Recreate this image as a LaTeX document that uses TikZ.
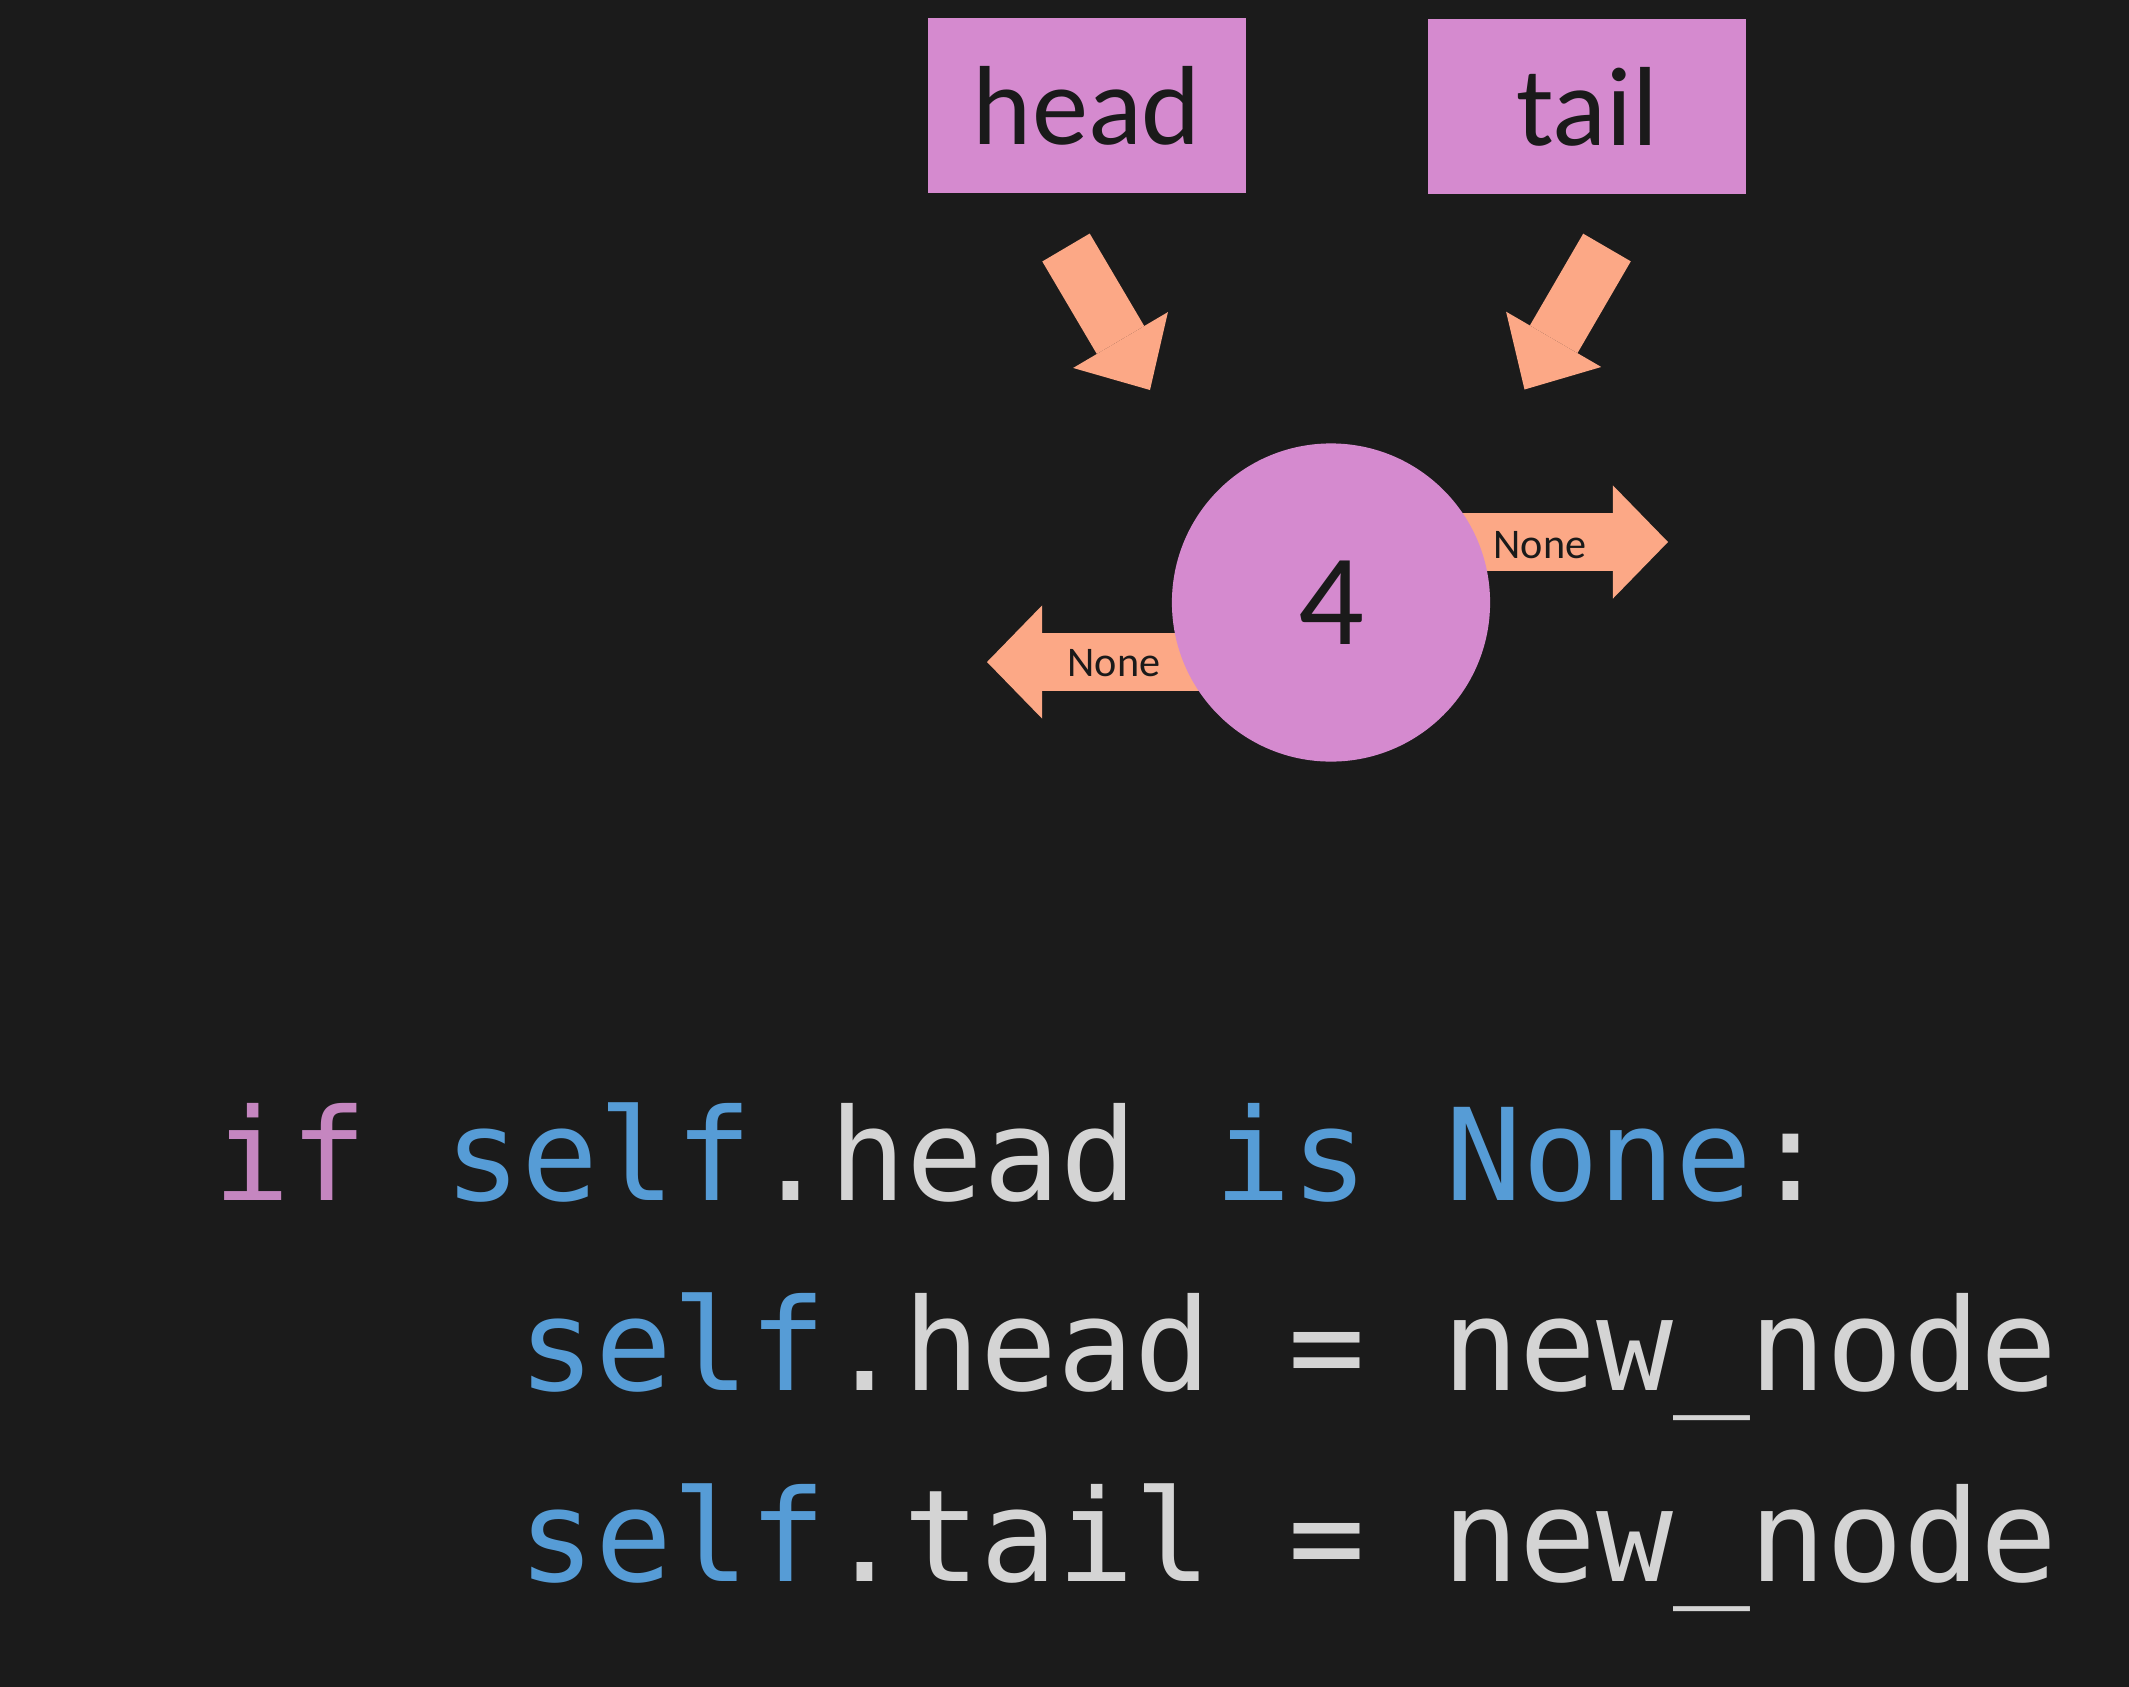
\documentclass[tikz,border=0pt]{standalone}
\usepackage{fontspec}
\setmainfont{Carlito}
\newfontfamily\codefont{DejaVu Sans Mono}
\usetikzlibrary{arrows.meta,calc}
\definecolor{bgc}{HTML}{1B1B1B}
\definecolor{boxc}{HTML}{D58ACF}
\definecolor{arrc}{HTML}{FCA886}
\definecolor{kwpurple}{HTML}{C586C0}
\definecolor{kwblue}{HTML}{569CD6}
\definecolor{codewhite}{HTML}{D4D4D4}
\definecolor{ink}{HTML}{1A1A1A}
\begin{document}
\begin{tikzpicture}[x=0.01cm,y=-0.01cm,
  ptr/.style={fill=boxc, draw=none, minimum width=3.17cm, minimum height=1.74cm, inner sep=0pt,
    font=\fontsize{32}{36}\selectfont, text=ink},
  blockarrow/.style={draw=arrc, line width=0.55cm, -{Triangle[width=1.1cm,length=0.58cm,line width=0pt]}},
  sidearrow/.style={draw=arrc, line width=0.58cm, -{Triangle[width=1.13cm,length=0.55cm,line width=0pt]}},
  listnode/.style={circle, fill=boxc, draw=none, minimum size=3.18cm, inner sep=0pt,
    font=\fontsize{37}{40}\selectfont, text=ink},
  nonelabel/.style={inner sep=0pt, font=\fontsize{12}{14}\selectfont, text=ink},
  code/.style={anchor=base west, inner sep=0pt, text=codewhite,
    font=\codefont\fontsize{36.35}{40}\selectfont}]
\fill[bgc] (0,0) rectangle (2129,1687);
% pointer boxes
\node[ptr] (head) at (1087,105.5) {head};
\node[ptr] (tail) at (1587,106.5) {tail};
% pointer arrows
\coordinate (hs) at (1066,247.5);
\coordinate (he) at (1150,390);
\coordinate (ts) at (1607,247.5);
\coordinate (te) at (1524.5,389.5);
\draw[blockarrow] (hs) -- (he);
\draw[blockarrow] (ts) -- (te);
% prev / next arrows (under the node)
\coordinate (c0) at (1331,602.5);
\coordinate (nxs) at (1331,542);
\coordinate (nxe) at (1668,542);
\coordinate (pvs) at (1331,662);
\coordinate (pve) at (987,662);
\draw[sidearrow] (nxs) -- (nxe);
\draw[sidearrow] (pvs) -- (pve);
% the list node
\node[listnode] (n4) at (c0) {4};
\node[nonelabel] (nextlbl) at (1540,545) {None};
\node[nonelabel] (prevlbl) at (1114,663) {None};
% code
\node[code] (l1) at (213,1200) {\textcolor{kwpurple}{if} \textcolor{kwblue}{self}.head \textcolor{kwblue}{is} \textcolor{kwblue}{None}:};
\node[code] (l2) at (518,1390) {\textcolor{kwblue}{self}.head = new\_node};
\node[code] (l3) at (518,1581) {\textcolor{kwblue}{self}.tail = new\_node};
\end{tikzpicture}
\end{document}
